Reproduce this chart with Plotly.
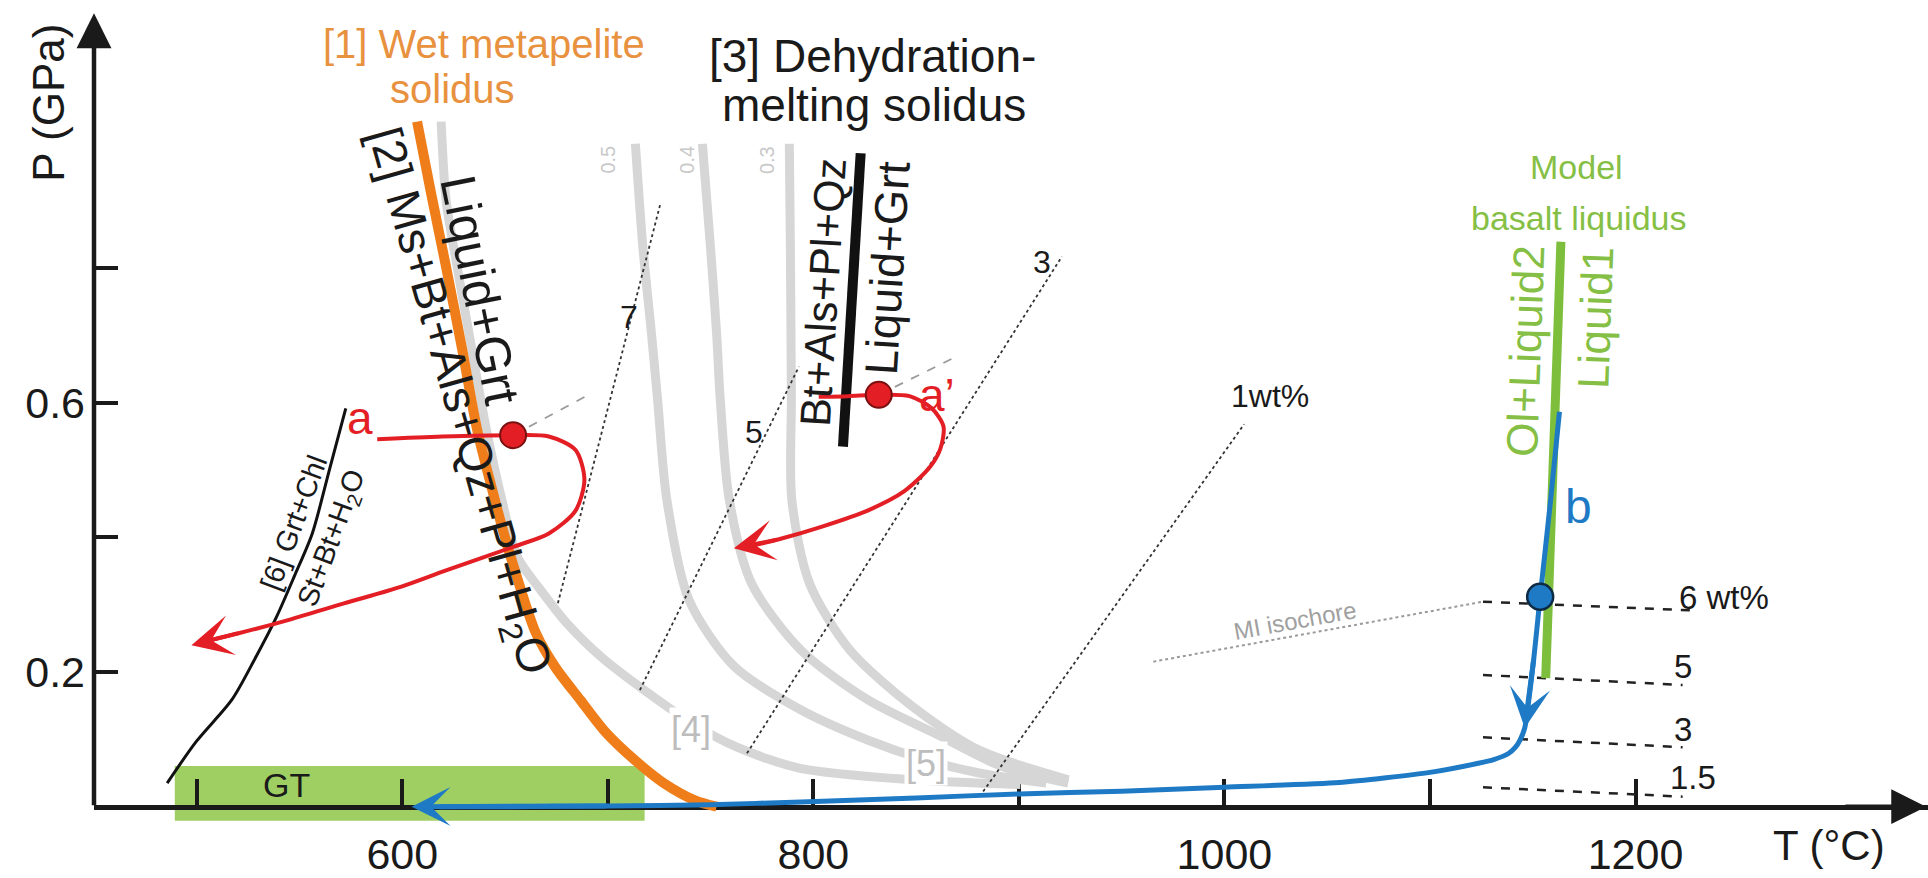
import plotly.graph_objects as go

# ---------------- data (T in °C, P in GPa) ----------------
# [1] wet metapelite solidus
wet_solidus_T = [607.2, 614.1, 621.3, 629.1, 636.5, 643.4, 649.4, 656.6, 665.0, 674.5, 686.5, 699.1, 712.8, 727.2, 742.7, 752.9]
wet_solidus_P = [1.018, 0.910, 0.802, 0.680, 0.559, 0.475, 0.406, 0.333, 0.258, 0.207, 0.159, 0.110, 0.070, 0.035, 0.009, 0.0]

# [4] and [5] grey melting curves
curve4_T = [618.9, 621.3, 626.7, 633.8, 641.0, 648.2, 656.0, 667.3, 680.5, 697.3, 718.2, 740.9, 763.1, 793.6, 848.0, 900.7]
curve4_P = [1.018, 0.901, 0.802, 0.680, 0.559, 0.459, 0.371, 0.322, 0.271, 0.221, 0.172, 0.124, 0.088, 0.057, 0.040, 0.033]
curve05_T = [713.4, 717.0, 721.2, 724.2, 728.7, 739.5, 761.3, 793.8, 826.4, 852.8, 880.7, 913.3]
curve05_P = [0.985, 0.833, 0.704, 0.605, 0.456, 0.307, 0.209, 0.144, 0.099, 0.071, 0.050, 0.035]
curve04_T = [746.0, 749.9, 752.9, 754.7, 759.1, 769.9, 793.8, 826.4, 859.0, 891.5, 924.0]
curve04_P = [0.985, 0.833, 0.704, 0.605, 0.456, 0.332, 0.233, 0.159, 0.109, 0.060, 0.035]
curve03_T = [788.3, 788.8, 789.1, 789.3, 789.5, 798.1, 817.7, 848.1, 880.7, 924.1]
curve03_P = [0.985, 0.833, 0.704, 0.605, 0.456, 0.332, 0.233, 0.149, 0.084, 0.040]

# melt-water isopleths (dotted)
iso7_T, iso7_P = [675.7, 725.6], [0.3023, 0.8965]
iso5_T, iso5_P = [715.6, 793.0], [0.1734, 0.654]
iso3_T, iso3_P = [767.7, 920.9], [0.0793, 0.8174]
iso1_T, iso1_P = [882.6, 1009.6], [0.0225, 0.5684]

# [3] dehydration-melting solidus
dehyd_T, dehyd_P = [823.0, 814.4], [0.971, 0.535]

# [6] Grt+Chl = St+Bt+H2O
react6_T = [485.6, 499.8, 517.1, 528.5, 538.8, 547.7, 556.2, 564.4, 572.5]
react6_P = [0.035, 0.097, 0.159, 0.221, 0.282, 0.344, 0.406, 0.499, 0.592]

# model basalt liquidus
liquidus_T, liquidus_P = [1163.7, 1156.3], [0.8395, 0.191]

# path a
path_a_T = [587.8, 619.5, 653.9, 671.3, 684.3, 688.6, 684.3, 671.3, 653.9, 621.3, 599.6, 571.6, 545.3, 520.8, 505.8]
path_a_P = [0.546, 0.550, 0.552, 0.550, 0.530, 0.486, 0.440, 0.406, 0.386, 0.351, 0.327, 0.302, 0.278, 0.258, 0.247]
path_a_tip = (497.4, 0.240)
dot_a = (653.9, 0.552)

# path a'
path_a2_T = [802.6, 816.9, 831.8, 846.8, 857.6, 863.3, 861.8, 856.8, 843.9, 826.4, 805.0, 782.8, 770.3]
path_a2_P = [0.609, 0.610, 0.612, 0.610, 0.592, 0.565, 0.532, 0.505, 0.468, 0.440, 0.417, 0.397, 0.388]
path_a2_tip = (761.3, 0.384)
dot_a2 = (831.8, 0.612)

# short grey dashed ticks from the two red points
tick_a_T, tick_a_P = [653.9, 688.7], [0.552, 0.609]
tick_a2_T, tick_a2_P = [831.8, 867.7], [0.612, 0.666]

# path b
path_b_T = [1163.0, 1158.5, 1153.6, 1150.5, 1146.1, 1143.8, 1141.5, 1138.2, 1131.0, 1123.5, 1100.0,
            1055.8, 1000.0, 950.0, 900.0, 850.0, 794.0, 750.0, 700.0, 650.0, 618.0]
path_b_P = [0.587, 0.450, 0.312, 0.220, 0.117, 0.099, 0.088, 0.079, 0.070, 0.0645, 0.051,
            0.036, 0.029, 0.023, 0.019, 0.013, 0.007, 0.003, 0.001, 0.0, 0.0]
path_b_mid_tip = (1146.1, 0.117)
path_b_end_tip = (604.5, 0.0)
dot_b = (1153.6, 0.312)

# MI isochore and H2O content levels
mi_T, mi_P = [965.4, 1125.8], [0.2155, 0.3046]
wt_labels = ["6 wt%", "5", "3", "1.5"]
wt_T0, wt_T1 = 1125.8, [1230.8, 1222.9, 1222.9, 1222.9]
wt_P0 = [0.3046, 0.1957, 0.1031, 0.0288]
wt_P1 = [0.2912, 0.1808, 0.0883, 0.0149]
wt_label_T = [1243.2, 1222.9, 1222.9, 1227.9]
wt_label_P = [0.311, 0.208, 0.114, 0.0434]

# GT range
gt_T = [489.3, 717.9]
gt_P = [-0.021, 0.0605]

# axes
x_ticks = [500, 600, 700, 800, 900, 1000, 1100, 1200]
x_ticktext = ["", "600", "", "800", "", "1000", "", "1200"]
y_ticks = [0.2, 0.4, 0.6, 0.8]
y_ticktext = ["0.2", "", "0.6", ""]
x_range = [450, 1342.3]
y_range = [-0.106, 1.1987]
y_arrow_top = 1.179
x_arrow_end = 1341.4

# ---------------- styles ----------------
FONT = "Liberation Sans, Arial, sans-serif"
ORANGE = "#EE7D1A"
ORANGE_TXT = "#E8913F"
GREY = "#D6D6D6"
GREEN = "#7DBE3C"
GREEN_TXT = "#86BF45"
BLUE = "#1F7AC6"
RED = "#E31E24"
BLACK = "#1a1a1a"

fig = go.Figure()


def line(T, P, color, width, dash=None, spline=False, smoothing=0.8):
    fig.add_trace(go.Scatter(
        x=T, y=P, mode="lines", hoverinfo="skip", showlegend=False,
        line=dict(color=color, width=width, dash=dash,
                  shape="spline" if spline else "linear",
                  smoothing=smoothing if spline else None)))


# grey curves
for T, P in [(curve4_T, curve4_P), (curve05_T, curve05_P), (curve04_T, curve04_P), (curve03_T, curve03_P)]:
    line(T, P, GREY, 9, spline=True)

# dotted isopleths
for T, P in [(iso7_T, iso7_P), (iso5_T, iso5_P), (iso3_T, iso3_P), (iso1_T, iso1_P)]:
    line(T, P, "#333333", 1.8, dash="dot")

# MI isochore and wt% levels
line(mi_T, mi_P, "#9a9a9a", 2, dash="dot")
for i in range(len(wt_labels)):
    line([wt_T0, wt_T1[i]], [wt_P0[i], wt_P1[i]], "#222222", 2.5, dash="dash")

# short dashed ticks from the red points
line(tick_a_T, tick_a_P, "#9a9a9a", 1.8, dash="dash")
line(tick_a2_T, tick_a2_P, "#9a9a9a", 1.8, dash="dash")

# solidi and reaction lines
line(wet_solidus_T, wet_solidus_P, ORANGE, 10, spline=True)
line(dehyd_T, dehyd_P, "#111111", 10)
line(react6_T, react6_P, "#111111", 3, spline=True)
line(liquidus_T, liquidus_P, GREEN, 9)

# P-T paths
line(path_b_T, path_b_P, BLUE, 5, spline=True, smoothing=0.6)
line(path_a_T, path_a_P, RED, 4, spline=True, smoothing=0.8)
line(path_a2_T, path_a2_P, RED, 4, spline=True, smoothing=0.8)

# points
fig.add_trace(go.Scatter(
    x=[dot_a[0], dot_a2[0]], y=[dot_a[1], dot_a2[1]], mode="markers", hoverinfo="skip", showlegend=False,
    marker=dict(size=26, color=RED, line=dict(color="#7a1010", width=2))))
fig.add_trace(go.Scatter(
    x=[dot_b[0]], y=[dot_b[1]], mode="markers", hoverinfo="skip", showlegend=False,
    marker=dict(size=26, color=BLUE, line=dict(color="#0d2a45", width=2.5))))

annotations = []


def arrow(tip, tail, color, width, head, size):
    annotations.append(dict(
        x=tip[0], y=tip[1], ax=tail[0], ay=tail[1], xref="x", yref="y", axref="x", ayref="y",
        text="", showarrow=True, arrowcolor=color, arrowwidth=width, arrowhead=head, arrowsize=size,
        standoff=0))


def label(text, x, y, size, color=BLACK, angle=0, bg=None, **kw):
    d = dict(x=x, y=y, xref="x", yref="y", text=text, showarrow=False, textangle=angle,
             font=dict(family=FONT, size=size, color=color), xanchor="center", yanchor="middle")
    if bg:
        d["bgcolor"] = bg
    d.update(kw)
    annotations.append(d)


# arrowheads
arrow(path_a_tip, (path_a_T[-2], path_a_P[-2]), RED, 4, 3, 1.7)
arrow(path_a2_tip, (path_a2_T[-2], path_a2_P[-2]), RED, 4, 3, 1.7)
arrow(path_b_mid_tip, (path_b_T[3], path_b_P[3]), BLUE, 5, 3, 1.35)
arrow(path_b_end_tip, (path_b_T[-3], path_b_P[-3]), BLUE, 5, 3, 1.3)
# axis arrows
arrow((x_range[0], y_arrow_top), (x_range[0], 0), BLACK, 4.5, 2, 1.55)
arrow((x_arrow_end, 0), (x_arrow_end - 40, 0), BLACK, 4.5, 2, 1.55)

# headings
label("[1] Wet metapelite", 639.8, 1.1333, 40, ORANGE_TXT)
label("solidus", 624.3, 1.0667, 40, ORANGE_TXT)
label("[3] Dehydration-", 828.6, 1.1158, 46)
label("melting solidus", 829.7, 1.0427, 46)
label("Model", 1171.1, 0.950, 34, GREEN_TXT)
label("basalt liquidus", 1172.3, 0.8745, 34, GREEN_TXT)

# reaction labels along the lines
label("[2] Ms+Bt+Als+Qz+Pl+H<sub>2</sub>O", 626.8, 0.601, 47, angle=74.2)
label("Liquid+Grt", 637.8, 0.768, 50, angle=78.5)
label("Bt+Als+Pl+Qz", 804.6, 0.765, 43, angle=-86.5)
label("Liquid+Grt", 836.1, 0.800, 46, angle=-86.5)
label("Ol+Liquid2", 1146.1, 0.677, 44, GREEN_TXT, angle=-88)
label("Liquid1", 1180.4, 0.727, 44, GREEN_TXT, angle=-88)
label("[6] Grt+Chl", 547.0, 0.422, 29, angle=-69.6)
label("St+Bt+H<sub>2</sub>O", 566.0, 0.398, 29, angle=-69.6)

# path labels
label("a", 579.4, 0.578, 46, RED)
label("a’", 860.0, 0.612, 46, RED)
label("b", 1172.1, 0.446, 48, BLUE)

# isopleth labels
label("7", 710.4, 0.728, 32)
label("5", 771.0, 0.557, 32)
label("3", 911.1, 0.810, 32)
label("1wt%", 1022.0, 0.610, 32)
for i, t in enumerate(wt_labels):
    label(t, wt_label_T[i], wt_label_P[i], 33)
label("MI isochore", 1034.3, 0.277, 24, "#a0a0a0", angle=-10.3)
label("0.5", 699.9, 0.961, 20, "#c8c8c8", angle=-90)
label("0.4", 738.4, 0.961, 20, "#c8c8c8", angle=-90)
label("0.3", 777.5, 0.961, 20, "#c8c8c8", angle=-90)
label("[4]", 740.6, 0.114, 36, "#bdbdbd", bg="white")
label("[5]", 854.9, 0.0645, 36, "#bdbdbd", bg="white")
label("GT", 543.6, 0.0323, 34)

# axis titles
label("P (GPa)", x_range[0], 1.046, 44, angle=-90, xshift=-45)
label("T (°C)", 1294.1, -0.058, 42)

fig.update_layout(
    width=1928, height=878,
    margin=dict(l=94, r=0, t=0, b=0),
    paper_bgcolor="white", plot_bgcolor="white",
    showlegend=False,
    annotations=annotations,
    shapes=[dict(type="rect", xref="x", yref="y", x0=gt_T[0], x1=gt_T[1], y0=gt_P[0], y1=gt_P[1],
                 fillcolor="#9FCF63", line=dict(width=0), layer="below")],
    xaxis=dict(range=x_range, anchor="free",
               position=(0 - y_range[0]) / (y_range[1] - y_range[0]),
               showgrid=False, zeroline=False, showline=True, linecolor=BLACK, linewidth=4.5,
               ticks="inside", ticklen=26, tickwidth=4, tickcolor=BLACK,
               tickvals=x_ticks, ticktext=x_ticktext, ticklabelstandoff=8,
               tickfont=dict(family=FONT, size=43, color=BLACK), layer="below traces"),
    yaxis=dict(range=y_range, anchor="x", showgrid=False, zeroline=False, showline=False,
               ticks="inside", ticklen=24, tickwidth=4, tickcolor=BLACK,
               tickvals=y_ticks, ticktext=y_ticktext, ticklabelstandoff=8,
               tickfont=dict(family=FONT, size=43, color=BLACK), layer="below traces"),
)

fig.write_html("out.html")
